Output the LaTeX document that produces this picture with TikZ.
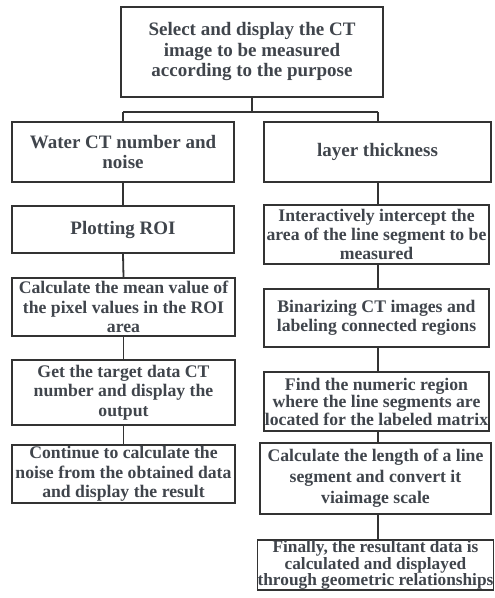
\documentclass[tikz,border=0pt]{standalone}
\usepackage{fontspec}
\setmainfont{Liberation Serif}
\definecolor{linec}{HTML}{333333}
\definecolor{textc}{HTML}{40454C}
\begin{document}
\begin{tikzpicture}[x=1pt,y=-1pt,
  box/.style={draw=linec, line width=1.8pt, text=textc, fill=white,
    font=\fontsize{17.7}{19.3}\selectfont\bfseries, align=center,
    inner sep=0pt, anchor=center},
  bigbox/.style={box, font=\fontsize{19}{20.5}\selectfont\bfseries},
  conn/.style={draw=linec, line width=1.8pt}]
\useasboundingbox (0,0) rectangle (495,598);
\node[bigbox, minimum width=262pt, minimum height=90pt] (top) at (252,52)
  {Select and display the CT\\image to be measured\\according to the purpose};
\node[bigbox, minimum width=222pt, minimum height=60pt] (L1) at (123,152)
  {Water CT number and\\noise};
\node[bigbox, minimum width=227pt, minimum height=60pt] (R1) at (377.5,152)
  {layer thickness};
\node[bigbox, minimum width=222pt, minimum height=47pt] (L2) at (123,229.5)
  {Plotting ROI};
\node[box, minimum width=225pt, minimum height=59pt] (R2) at (376.5,234.5)
  {Interactively intercept the\\area of the line segment to be\\measured};
\node[box, minimum width=223pt, minimum height=58pt] (L3) at (123.5,307)
  {Calculate the mean value of\\the pixel values in the ROI\\area};
\node[box, minimum width=225pt, minimum height=58pt] (R3) at (376.5,318)
  {Binarizing CT images and\\labeling connected regions};
\node[box, minimum width=223pt, minimum height=65pt] (L4) at (123.5,392.5)
  {Get the target data CT\\number and display the\\output};
\node[box, font=\fontsize{17.7}{17.5}\selectfont\bfseries, minimum width=225pt, minimum height=59pt] (R4) at (376.5,401.5)
  {Find the numeric region\\where the line segments are\\located for the labeled matrix};
\node[box, minimum width=223pt, minimum height=58pt] (L5) at (123.5,474)
  {Continue to calculate the\\noise from the obtained data\\and display the result};
\node[box, font=\fontsize{17.7}{21}\selectfont\bfseries, minimum width=231pt, minimum height=71pt] (R5) at (375.5,478.5)
  {Calculate the length of a line\\segment and convert it\\viaimage scale};
\node[box, font=\fontsize{17.3}{15}\selectfont\bfseries, minimum width=236pt, minimum height=44pt] (R6) at (375.5,565)
  {Finally, the resultant data is\\calculated and displayed\\through geometric relationships};
\coordinate (j) at (252,112);
\coordinate (jl) at (123,112);
\coordinate (jr) at (378,112);
\draw[conn] (top.south) -- (j);
\draw[conn] (jl) -- (jr);
\draw[conn] (jl) -- (jl |- L1.north);
\draw[conn] (jr) -- (jr |- R1.north);
\draw[conn] (L1.south) -- (L2.north);
\draw[conn] (L2.south) -- (L3.north);
\draw[conn] (L3.south) -- (L4.north);
\draw[conn] (L4.south) -- (L5.north);
\draw[conn] (jr |- R1.south) -- (jr |- R2.north);
\draw[conn] (jr |- R2.south) -- (jr |- R3.north);
\draw[conn] (jr |- R3.south) -- (jr |- R4.north);
\draw[conn] (jr |- R4.south) -- (jr |- R5.north);
\draw[conn] (jr |- R5.south) -- (jr |- R6.north);
\end{tikzpicture}
\end{document}
